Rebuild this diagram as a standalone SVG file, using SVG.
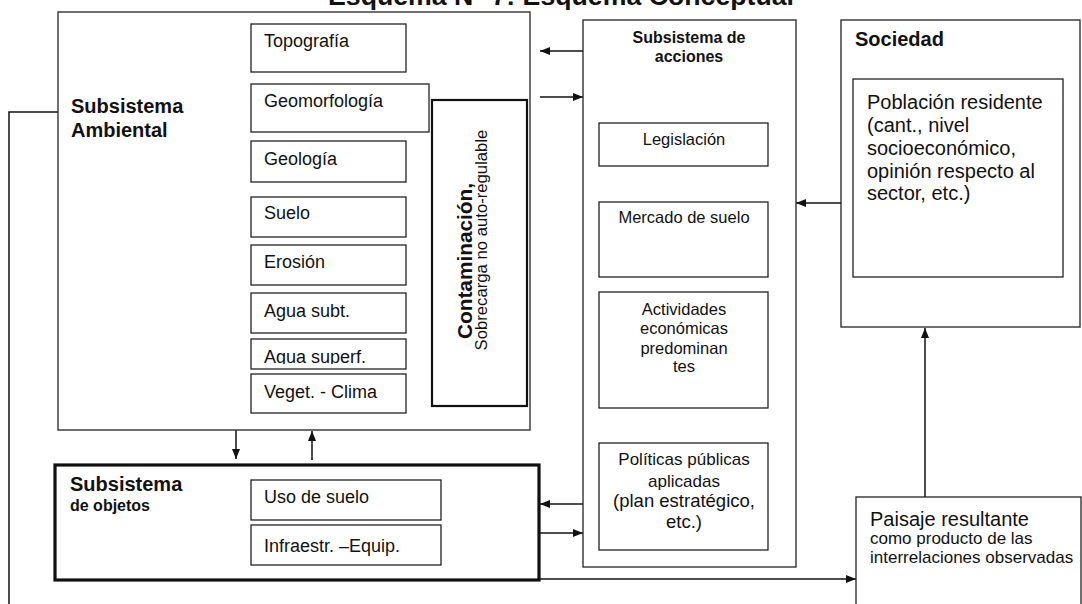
<svg xmlns="http://www.w3.org/2000/svg" width="1082" height="604" viewBox="0 0 1082 604">
  <style>
    text { font-family: "Liberation Sans", Arial, sans-serif; fill: #111; }
    .box { fill: #fff; stroke: #222; stroke-width: 1.3; }
    .outer { fill: #fff; stroke: #333; stroke-width: 1.4; }
    .thick { fill: #fff; stroke: #111; stroke-width: 2.2; }
    .heavy { fill: #fff; stroke: #111; stroke-width: 3.2; }
    .item { font-size: 18px; }
    .mid { font-size: 16.5px; text-anchor: middle; }
    .head { font-size: 20px; font-weight: bold; }
    .body { font-size: 20px; }
    .small { font-size: 17px; }
    .bold { font-weight: bold; }
    .link { fill: none; stroke: #111; stroke-width: 1.5; }
  </style>
  <defs>
    <marker id="arrow" viewBox="0 0 10 8" refX="10" refY="4" markerWidth="10" markerHeight="8" markerUnits="userSpaceOnUse" orient="auto">
      <path d="M0,0 L10,4 L0,8 z" fill="#111"/>
    </marker>
    <clipPath id="clip-superf">
      <rect x="251" y="339" width="155" height="25"/>
    </clipPath>
  </defs>

  <!-- Title -->
  <text x="328" y="5" font-size="26" font-weight="bold" textLength="466" lengthAdjust="spacingAndGlyphs">Esquema N° 7: Esquema Conceptual</text>

  <!-- Connectors -->
  <g id="connectors">
    <line class="link" x1="583" y1="51" x2="540" y2="51" marker-end="url(#arrow)"/>
    <line class="link" x1="540" y1="97" x2="583" y2="97" marker-end="url(#arrow)"/>
    <line class="link" x1="841" y1="203" x2="796" y2="203" marker-end="url(#arrow)"/>
    <line class="link" x1="925" y1="497" x2="925" y2="328" marker-end="url(#arrow)"/>
    <line class="link" x1="236" y1="430" x2="236" y2="459" marker-end="url(#arrow)"/>
    <line class="link" x1="312" y1="460" x2="312" y2="431" marker-end="url(#arrow)"/>
    <line class="link" x1="583" y1="504" x2="540" y2="504" marker-end="url(#arrow)"/>
    <line class="link" x1="540" y1="533" x2="583" y2="533" marker-end="url(#arrow)"/>
    <line class="link" x1="540" y1="579" x2="856" y2="579" marker-end="url(#arrow)"/>
    <polyline class="link" points="58,112 9,112 9,610"/>
  </g>

  <!-- Environmental subsystem -->
  <g id="subsistema-ambiental">
    <rect class="outer" x="58" y="12" width="472" height="418"/>
    <text class="head" x="71" y="113">Subsistema</text>
    <text class="head" x="71" y="137">Ambiental</text>
  </g>
  <g id="topografia">
    <rect class="box" x="251" y="24" width="155" height="48"/>
    <text class="item" x="264" y="47">Topografía</text>
  </g>
  <g id="geomorfologia">
    <rect class="box" x="251" y="84" width="178" height="48"/>
    <text class="item" x="264" y="107">Geomorfología</text>
  </g>
  <g id="geologia">
    <rect class="box" x="251" y="141" width="155" height="41"/>
    <text class="item" x="264" y="165">Geología</text>
  </g>
  <g id="suelo">
    <rect class="box" x="251" y="197" width="155" height="40"/>
    <text class="item" x="264" y="219">Suelo</text>
  </g>
  <g id="erosion">
    <rect class="box" x="251" y="245" width="155" height="40"/>
    <text class="item" x="264" y="268">Erosión</text>
  </g>
  <g id="agua-subt">
    <rect class="box" x="251" y="293" width="155" height="40"/>
    <text class="item" x="264" y="317">Agua subt.</text>
  </g>
  <g id="agua-superf">
    <rect class="box" x="251" y="339" width="155" height="30"/>
    <text class="item" x="264" y="363" clip-path="url(#clip-superf)">Agua superf.</text>
  </g>
  <g id="veget-clima">
    <rect class="box" x="251" y="374" width="155" height="39"/>
    <text class="item" x="264" y="398">Veget. - Clima</text>
  </g>
  <g id="contaminacion">
    <rect class="thick" x="432" y="100" width="95" height="306"/>
    <text class="head" transform="translate(472,261) rotate(-90)" style="font-size:20.8px" text-anchor="middle">Contaminación,</text>
    <text transform="translate(487,240) rotate(-90)" style="font-size:16.7px" text-anchor="middle">Sobrecarga no auto-regulable</text>
  </g>

  <!-- Action subsystem -->
  <g id="subsistema-acciones">
    <rect class="box" x="583" y="20" width="213" height="547"/>
    <text class="mid bold" x="689" y="43" style="font-size:16px">Subsistema de</text>
    <text class="mid bold" x="689" y="62" style="font-size:16px">acciones</text>
  </g>
  <g id="legislacion">
    <rect class="box" x="599" y="123" width="169" height="43"/>
    <text class="mid" x="684" y="145">Legislación</text>
  </g>
  <g id="mercado-suelo">
    <rect class="box" x="599" y="202" width="169" height="75"/>
    <text class="mid" x="684" y="223">Mercado de suelo</text>
  </g>
  <g id="actividades">
    <rect class="box" x="599" y="292" width="169" height="116"/>
    <text class="mid" x="684" y="315">Actividades</text>
    <text class="mid" x="684" y="334">económicas</text>
    <text class="mid" x="684" y="354">predominan</text>
    <text class="mid" x="684" y="372">tes</text>
  </g>
  <g id="politicas">
    <rect class="box" x="599" y="443" width="169" height="107"/>
    <text class="mid" x="684" y="465" style="font-size:17px">Políticas públicas</text>
    <text class="mid" x="684" y="487" style="font-size:17px">aplicadas</text>
    <text class="mid" x="684" y="507" style="font-size:18.5px">(plan estratégico,</text>
    <text class="mid" x="684" y="528" style="font-size:18.5px">etc.)</text>
  </g>

  <!-- Society -->
  <g id="sociedad">
    <rect class="box" x="841" y="20" width="239" height="307"/>
    <text class="head" x="855" y="46">Sociedad</text>
  </g>
  <g id="poblacion">
    <rect class="box" x="853" y="79" width="210" height="198"/>
    <text class="body" x="867" y="109">Población residente</text>
    <text class="body" x="867" y="132">(cant., nivel</text>
    <text class="body" x="867" y="155">socioeconómico,</text>
    <text class="body" x="867" y="178">opinión respecto al</text>
    <text class="body" x="867" y="200">sector, etc.)</text>
  </g>

  <!-- Object subsystem -->
  <g id="subsistema-objetos">
    <rect class="heavy" x="55" y="465" width="484" height="115"/>
    <text class="head" x="70" y="491">Subsistema</text>
    <text class="bold" x="70" y="511" style="font-size:16px">de objetos</text>
  </g>
  <g id="uso-suelo">
    <rect class="box" x="251" y="480" width="190" height="40"/>
    <text class="item" x="264" y="503">Uso de suelo</text>
  </g>
  <g id="infraestructura">
    <rect class="box" x="251" y="525" width="190" height="40"/>
    <text class="item" x="264" y="552">Infraestr. –Equip.</text>
  </g>

  <!-- Resulting landscape -->
  <g id="paisaje">
    <rect class="box" x="856" y="497" width="225" height="130"/>
    <text class="body" x="870" y="526">Paisaje resultante</text>
    <text class="small" x="870" y="544">como producto de las</text>
    <text class="small" x="870" y="563">interrelaciones observadas</text>
  </g>
</svg>
